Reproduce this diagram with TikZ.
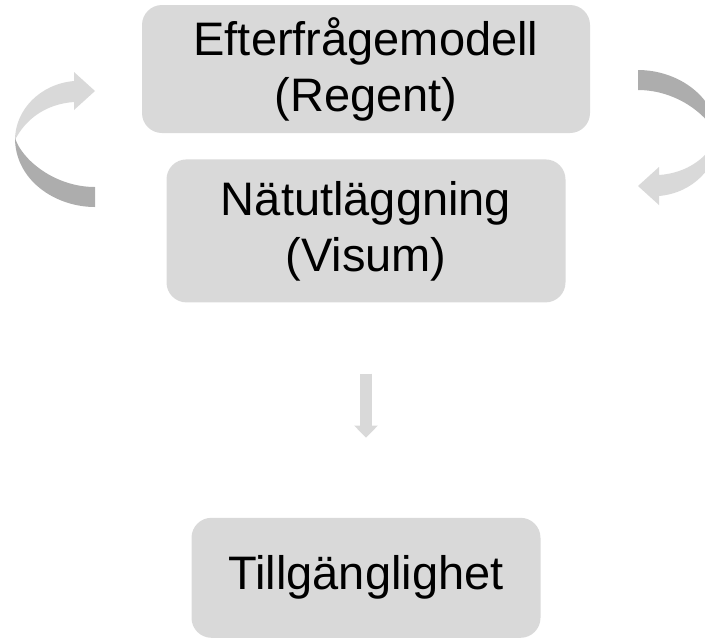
\documentclass[tikz,border=0pt]{standalone}
\usepackage{fontspec}
\setmainfont{Liberation Sans}
\usepackage{tikz}
\usetikzlibrary{arrows.meta,positioning}

\definecolor{boxgray}{HTML}{D9D9D9}
\definecolor{darkgray}{HTML}{ADADAD}

% one bent arrow, head at the top, tail at the bottom
\newcommand{\bentarrow}{%
  \fill[boxgray] (74,81) -- (74,72) -- (95,91) -- (74,110) -- (74,102)
    .. controls (45,104) and (25,120) .. (15,140)
    .. controls (15,110) and (40,84) .. (74,81) -- cycle;
  \fill[darkgray] (15,138) .. controls (15,180) and (55,207) .. (95,207)
    -- (95,187) .. controls (55,187) and (22,160) .. (15,138) -- cycle;
}

\begin{document}
\begin{tikzpicture}[x=1pt,y=-1pt,
  box/.style={rectangle,rounded corners=20pt,fill=boxgray,align=center,
    font=\fontsize{47}{56}\selectfont},
  downarrow/.style={draw=boxgray,line width=12pt,
    -{Triangle[length=12pt,width=23pt,fill=boxgray]}}]

  \useasboundingbox (0,0) rectangle (705,641);
  \clip (0,0) rectangle (705,641);

  \node[box,minimum width=448pt,minimum height=128pt] (1) at (366,69)
    {Efterfrågemodell\\(Regent)};
  \node[box,minimum width=399pt,minimum height=143pt] (2) [below=26pt of 1]
    {Nätutläggning\\(Visum)};
  \node[box,minimum width=349pt,minimum height=120pt] (3) [below=215pt of 2]
    {Tillgänglighet};

  \draw[downarrow,shorten <=71pt,shorten >=80pt] (2) -- (3);

  \bentarrow
  \begin{scope}[rotate around={180:(366.5,138.5)}]
    \bentarrow
  \end{scope}
\end{tikzpicture}
\end{document}
